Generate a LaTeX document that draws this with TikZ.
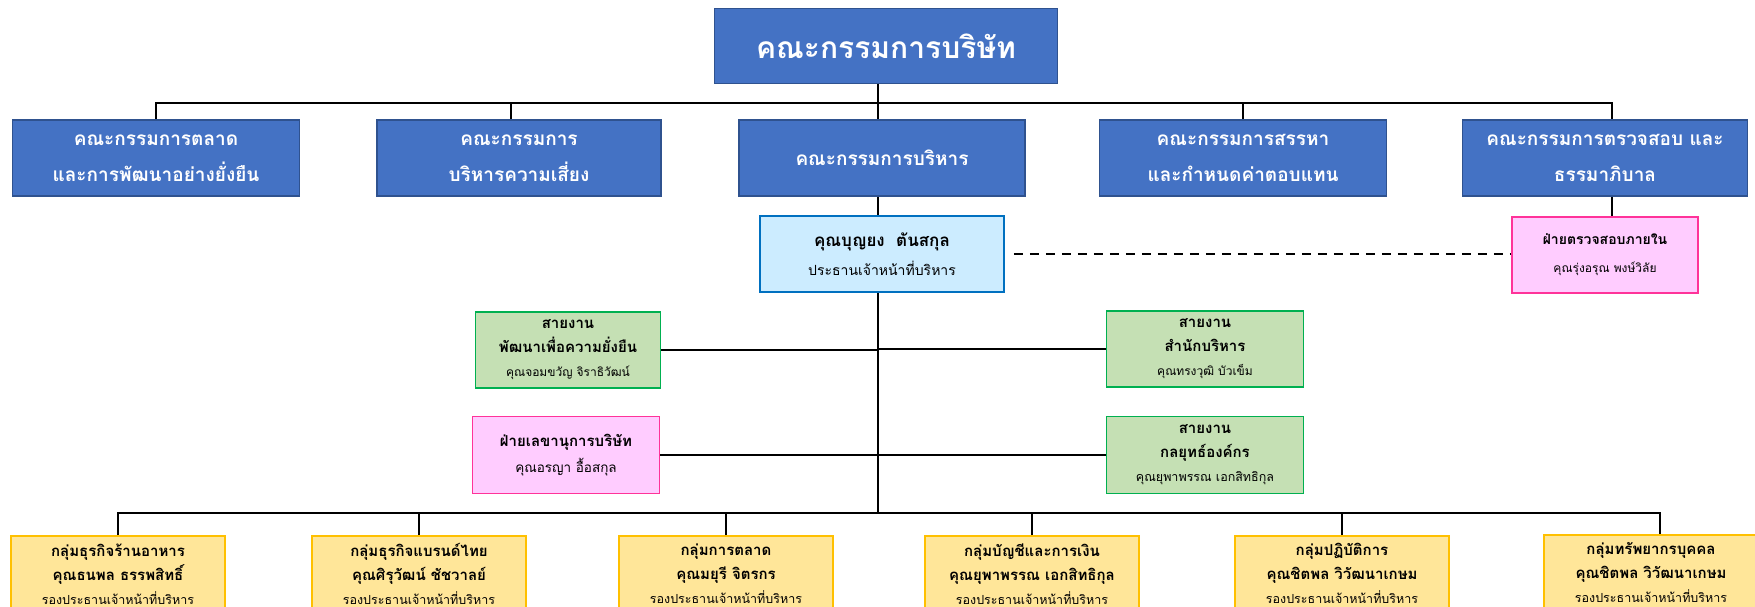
\documentclass[tikz,border=0pt]{standalone}
\usepackage{fontspec}
\setmainfont[Script=Thai]{Loma}
\definecolor{bluefill}{HTML}{4472C4}
\definecolor{blueline}{HTML}{2F528F}
\definecolor{ceofill}{HTML}{CCECFF}
\definecolor{ceoline}{HTML}{0070C0}
\definecolor{pinkfill}{HTML}{FFCCFF}
\definecolor{pinkline}{HTML}{FF3399}
\definecolor{greenfill}{HTML}{C5E0B4}
\definecolor{greenline}{HTML}{00B050}
\definecolor{yellowfill}{HTML}{FFE699}
\definecolor{yellowline}{HTML}{FFC000}
\newcommand{\fsz}[2]{\fontsize{#1}{#2}\selectfont}
\newcommand{\bl}[1]{{\bfseries #1}}
\newcommand{\rl}[1]{{\fontsize{12.5}{24}\selectfont #1}}
\tikzset{
  box/.style={draw, line width=1.6pt, align=center, inner sep=0pt},
  board/.style={box, fill=bluefill, draw=blueline, text=white, font=\bfseries\fsz{30}{36}, minimum width=343pt, minimum height=75pt},
  comm/.style={box, fill=bluefill, draw=blueline, text=white, font=\bfseries\fsz{19}{36}, minimum width=286pt, minimum height=76pt},
  ceo/.style={box, fill=ceofill, draw=ceoline, minimum width=244pt, minimum height=76pt, font=\fsz{17}{29}},
  pinkbox/.style={box, fill=pinkfill, draw=pinkline, minimum width=186pt, minimum height=76pt},
  greenbox/.style={box, fill=greenfill, draw=greenline, minimum height=76pt, font=\fsz{15}{24}},
  groupbox/.style={box, fill=yellowfill, draw=yellowline, minimum width=214pt, minimum height=76pt, anchor=north, font=\fsz{15}{24}},
  conn/.style={line width=2.2pt, draw=black},
}
\begin{document}
\begin{tikzpicture}[x=1pt, y=-1pt]
\clip (0,0) rectangle (1755,607);
\useasboundingbox (0,0) rectangle (1755,607);
\fill[white] (0,0) rectangle (1755,607);

\coordinate (bus1) at (880,103);
\coordinate (bus2) at (880,513);
\coordinate (spine) at (878,300);

\node[board] (top) at (886,46) {คณะกรรมการบริษัท};

\node[comm, minimum width=287pt] (c1) at (156,158) {คณะกรรมการตลาด\\และการพัฒนาอย่างยั่งยืน};
\node[comm, minimum width=284pt] (c2) at (519,158) {คณะกรรมการ\\บริหารความเสี่ยง};
\node[comm] (c3) at (882,158) {คณะกรรมการบริหาร};
\node[comm, minimum width=287pt] (c4) at (1243,158) {คณะกรรมการสรรหา\\และกำหนดค่าตอบแทน};
\node[comm, minimum width=285pt] (c5) at (1605,158) {คณะกรรมการตรวจสอบ และ\\ธรรมาภิบาล};

\node[ceo] (ceo) at (882,254) {{\bfseries คุณบุญยง\ \ ตันสกุล}\\{\fontsize{14}{29}\selectfont ประธานเจ้าหน้าที่บริหาร}};

\node[pinkbox, font=\fsz{14}{28}] (audit) at (1605,255) {{\bfseries ฝ่ายตรวจสอบภายใน}\\{\fontsize{12}{28}\selectfont คุณรุ่งอรุณ พงษ์วิลัย}};

\node[greenbox, minimum width=185pt] (g1) at (568,350) {\bl{สายงาน}\\\bl{พัฒนาเพื่อความยั่งยืน}\\{\fontsize{12}{24}\selectfont คุณจอมขวัญ จิราธิวัฒน์}};
\node[greenbox, minimum width=197pt] (g2) at (1205,349) {\bl{สายงาน}\\\bl{สำนักบริหาร}\\{\fontsize{12}{24}\selectfont คุณทรงวุฒิ บัวเข็ม}};
\node[pinkbox, minimum width=187pt, minimum height=77pt, font=\fsz{15}{26}] (p1) at (566,455) {{\bfseries ฝ่ายเลขานุการบริษัท}\\{\fontsize{13.5}{26}\selectfont คุณอรญา อื้อสกุล}};
\node[greenbox, minimum width=197pt, minimum height=77pt] (g3) at (1205,455) {\bl{สายงาน}\\\bl{กลยุทธ์องค์กร}\\\rl{คุณยุพาพรรณ เอกสิทธิกุล}};

\node[groupbox] (b1) at (118,535) {\bl{กลุ่มธุรกิจร้านอาหาร}\\\bl{คุณธนพล ธรรพสิทธิ์}\\\rl{รองประธานเจ้าหน้าที่บริหาร}};
\node[groupbox] (b2) at (419,535) {\bl{กลุ่มธุรกิจแบรนด์ไทย}\\\bl{คุณศิรุวัฒน์ ชัชวาลย์}\\\rl{รองประธานเจ้าหน้าที่บริหาร}};
\node[groupbox] (b3) at (726,535) {\bl{กลุ่มการตลาด}\\\bl{คุณมยุรี จิตรกร}\\\rl{รองประธานเจ้าหน้าที่บริหาร}};
\node[groupbox] (b4) at (1032,535) {\bl{กลุ่มบัญชีและการเงิน}\\\bl{คุณยุพาพรรณ เอกสิทธิกุล}\\\rl{รองประธานเจ้าหน้าที่บริหาร}};
\node[groupbox] (b5) at (1342,535) {\bl{กลุ่มปฏิบัติการ}\\\bl{คุณชิตพล วิวัฒนาเกษม}\\\rl{รองประธานเจ้าหน้าที่บริหาร}};
\node[groupbox] (b6) at (1651,534) {\bl{กลุ่มทรัพยากรบุคคล}\\\bl{คุณชิตพล วิวัฒนาเกษม}\\\rl{รองประธานเจ้าหน้าที่บริหาร}};

% board to committees
\draw[conn] (top.south -| spine) -- (c3.north -| spine);
\draw[conn] (c1.north) -- (c1.north |- bus1) -- ([xshift=7pt]c5.north |- bus1) -- ([xshift=7pt]c5.north);
\draw[conn] ([xshift=-8pt]c2.north) -- ([xshift=-8pt]c2.north |- bus1);
\draw[conn] (c4.north) -- (c4.north |- bus1);

% committees to CEO and audit
\draw[conn] (c3.south -| spine) -- (ceo.north -| spine);
\draw[conn] ([xshift=7pt]c5.south) -- ([xshift=7pt]audit.north);
\draw[conn, dashed, dash pattern=on 9pt off 7pt, shorten <=9pt] (ceo.east) -- (ceo.east -| audit.west);

% CEO down
\draw[conn] (ceo.south -| spine) -- (bus2 -| spine);
\draw[conn] (g1.east) -- (g1.east -| spine);
\draw[conn] (g2.west) -- (g2.west -| spine);
\draw[conn] (p1.east) -- (p1.east -| spine);
\draw[conn] (g3.west) -- (g3.west -| spine);

% groups
\draw[conn] (b1.north) -- (b1.north |- bus2) -- ([xshift=9pt]b6.north |- bus2) -- ([xshift=9pt]b6.north);
\draw[conn] (b2.north) -- (b2.north |- bus2);
\draw[conn] (b3.north) -- (b3.north |- bus2);
\draw[conn] (b4.north) -- (b4.north |- bus2);
\draw[conn] (b5.north) -- (b5.north |- bus2);
\end{tikzpicture}
\end{document}
